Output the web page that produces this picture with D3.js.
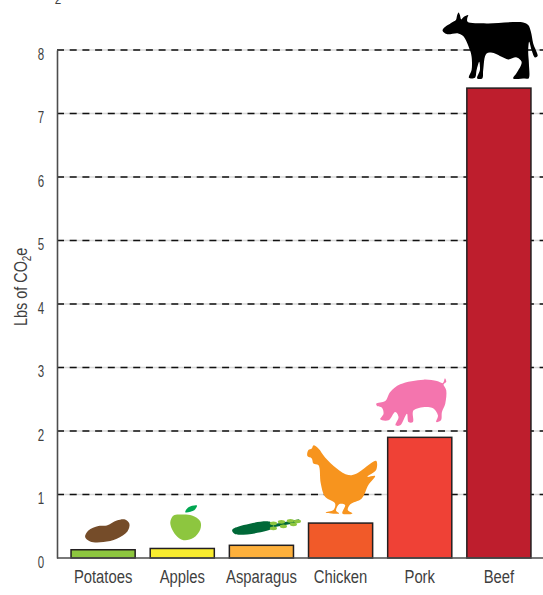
<!DOCTYPE html>
<html>
<head>
<meta charset="utf-8">
<script src="https://cdn.jsdelivr.net/npm/d3@7"></script>
<style>
  html, body { margin: 0; padding: 0; background: #fff; }
  svg { display: block; }
  text { font-family: "Liberation Sans", sans-serif; fill: #3f3f3f; }
</style>
</head>
<body>
<div id="chart"></div>
<script>
const categories = ["Potatoes", "Apples", "Asparagus", "Chicken", "Pork", "Beef"];
const values = [0.13, 0.15, 0.2, 0.55, 1.9, 7.4];
const barColors = ["#8dc63f", "#f9ec2f", "#fdb03c", "#f15a29", "#ef4136", "#be1e2d"];
const yTicks = [0, 1, 2, 3, 4, 5, 6, 7, 8];

// silhouettes, points relative to top centre of the bar they stand on
const cowShape = [[-56.3,-57.3],[-55,-60],[-45.7,-66.3],[-43,-68],[-41.7,-73],[-40.3,-75.7],[-39,-73],[-37.7,-68.7],[-35,-71.3],[-30.7,-73],[-31.7,-69.7],[-31.3,-66.3],[-12.3,-64.7],[24.3,-65.7],[29.3,-63],[32,-56.3],[34.3,-44.7],[38.7,-32],[36,-30.7],[32.7,-38],[30.3,-46.3],[29.3,-36.3],[30,-24.7],[29.7,-9.7],[26,-9.7],[14.3,-9.7],[17.7,-15],[22.7,-26.3],[17.7,-30.7],[9.3,-28.7],[2.7,-31.3],[-4,-34.7],[-12.3,-34.7],[-15.7,-18],[-16.7,-9.7],[-21.7,-9.7],[-19,-18],[-19.7,-26.3],[-22.3,-18],[-24,-10.3],[-30,-10.3],[-27.3,-18],[-27.3,-31.3],[-29,-38],[-35.7,-52],[-40.7,-54.7],[-52.3,-54]];
const pigShape = [[-43.5,-33.7],[-34.5,-36.3],[-29.5,-45.3],[-19.5,-53],[3.8,-57.7],[17.2,-56.3],[23.2,-54.3],[25.2,-59],[26.5,-55.3],[23.8,-53],[26.5,-47],[25.5,-33.7],[22.2,-25.3],[21.2,-17],[16.5,-15.3],[18.2,-22],[12.2,-29.7],[-6.2,-27],[-6.8,-15.3],[-11.2,-15.3],[-12.8,-23.7],[-19.5,-12],[-24.2,-12],[-21.2,-20.3],[-24.5,-25.3],[-31.2,-17],[-39.5,-18],[-36.2,-23.7],[-37.8,-29.7],[-42.2,-31]];
const chickenShape = [[-33.2,-67],[-32.2,-73],[-28.8,-74.7],[-27.2,-77.7],[-22.2,-74.7],[-15.5,-65.7],[-3.8,-54.7],[7.8,-48],[16.2,-49.7],[35.5,-62.3],[35.5,-53],[26.8,-46.3],[34.5,-47],[27.8,-38],[21.2,-24.7],[9.5,-18.7],[7.2,-13],[11.8,-9.7],[1.8,-9.7],[4.5,-18],[-1.2,-19],[-4.5,-12.3],[-1.5,-9.7],[-14.8,-10.7],[-7.2,-13],[-5.5,-19.7],[-15.5,-26.3],[-19.8,-39.7],[-22.2,-58],[-27.2,-59.7],[-28.8,-64.7]];
const potatoShape = [[-18,-12.7],[-14.7,-19.3],[-4.7,-23.7],[3.7,-24.3],[13.7,-29.3],[22,-30.3],[26.3,-26],[24.3,-18.3],[13.7,-11],[0.3,-7.7],[-13,-8.3]];
const appleShape = [[-12,-25.7],[-8.7,-33],[-0.3,-34],[9.7,-33],[18,-27.3],[18,-19],[11.3,-10.7],[1.3,-8.3],[-7,-14]];
const appleLeaf = [[3,-36.3],[6.3,-41.3],[14.7,-43],[12,-38.3]];
const asparagusStem = [[-29.3,-15],[-26,-17.7],[9,-23.3],[12,-17.7],[-26,-11]];
const asparagusTip = [[12,-19.5],[38,-24.5]];
const asparagusBuds = [[12,-22],[20,-23.5],[29,-24.5],[36,-24],[12,-17],[22,-19],[32,-21]];

const width = 543, height = 595;
const margin = { top: 50, bottom: 37, left: 57 };
const narrow = 0.78; // reference type is a condensed face, squeeze ours to match

const svg = d3.select("#chart").append("svg").attr("width", width).attr("height", height);

const x = d3.scaleBand().domain(categories).range([56, 546]).padding(0.19);
const y = d3.scaleLinear().domain([0, 8]).range([height - margin.bottom, margin.top]);

// bit of the cropped title that pokes in at the top edge
svg.append("text")
  .attr("transform", `translate(58,3.5) scale(${narrow},1)`)
  .attr("text-anchor", "middle").attr("font-size", 15).text("2");

// gridlines: pale rule with dashes over it
const gridTicks = yTicks.slice(1);
svg.selectAll(".grid-pale").data(gridTicks).enter().append("line")
  .attr("class", "grid-pale")
  .attr("x1", margin.left).attr("x2", width)
  .attr("y1", (d) => y(d)).attr("y2", (d) => y(d))
  .attr("stroke", "#d8d8d8").attr("stroke-width", 1.4);
svg.selectAll(".grid-dash").data(gridTicks).enter().append("line")
  .attr("class", "grid-dash")
  .attr("x1", margin.left).attr("x2", width)
  .attr("y1", (d) => y(d)).attr("y2", (d) => y(d))
  .attr("stroke", "#111").attr("stroke-width", 1.3)
  .attr("stroke-dasharray", "7,5.7");

// bars
svg.selectAll(".bar").data(categories).enter().append("rect")
  .attr("class", "bar")
  .attr("x", (d) => x(d))
  .attr("y", (d, i) => y(values[i]))
  .attr("width", x.bandwidth())
  .attr("height", (d, i) => y(0) - y(values[i]))
  .attr("fill", (d, i) => barColors[i])
  .attr("stroke", "#231f20").attr("stroke-width", 1.5);

// axes
const yAxis = d3.axisLeft(y).tickValues(yTicks).tickSize(0).tickPadding(0);
const gy = svg.append("g").attr("transform", `translate(${margin.left},0)`).call(yAxis);
gy.select(".domain").attr("stroke", "#4d4d4d").attr("stroke-width", 1.6);
gy.selectAll("text")
  .attr("x", 0).attr("dy", null)
  .attr("font-size", 16).attr("font-family", '"Liberation Sans", sans-serif')
  .attr("text-anchor", "middle")
  .attr("transform", `translate(-16,9) scale(0.72,1)`);

const xAxis = d3.axisBottom(x).tickSize(0).tickPadding(12);
const gx = svg.append("g").attr("transform", `translate(0,${y(0)})`).call(xAxis);
gx.select(".domain").attr("d", `M${margin.left},0H${width}`).attr("stroke", "#4d4d4d").attr("stroke-width", 1.6);
gx.selectAll("text")
  .attr("font-size", 19).attr("font-family", '"Liberation Sans", sans-serif')
  .attr("transform", `scale(${narrow},1)`);

// y axis title
const yTitle = svg.append("text")
  .attr("transform", `translate(27,${y(4.27)}) rotate(-90) scale(0.76,1)`)
  .attr("text-anchor", "middle").attr("font-size", 19);
yTitle.append("tspan").text("Lbs of CO");
yTitle.append("tspan").attr("font-size", 13).attr("dy", 4).text("2");
yTitle.append("tspan").attr("dy", -4).text("e");

// icons sitting on the bars
const blob = d3.line().curve(d3.curveCatmullRomClosed.alpha(0.5));
function iconAt(name) {
  const i = categories.indexOf(name);
  return svg.append("g")
    .attr("transform", `translate(${x(name) + x.bandwidth() / 2},${y(values[i])})`);
}

iconAt("Beef").append("path").attr("d", blob(cowShape)).attr("fill", "#000");
iconAt("Pork").append("path").attr("d", blob(pigShape)).attr("fill", "#f475ae");
iconAt("Chicken").append("path").attr("d", blob(chickenShape)).attr("fill", "#f7941e");
iconAt("Potatoes").append("path").attr("d", blob(potatoShape)).attr("fill", "#754c29");

const apple = iconAt("Apples");
apple.append("path").attr("d", blob(appleShape)).attr("fill", "#8dc63f");
apple.append("path").attr("d", blob(appleLeaf)).attr("fill", "#00a651");

const asparagus = iconAt("Asparagus");
asparagus.append("path").attr("d", blob(asparagusStem)).attr("fill", "#006838");
asparagus.append("path").attr("d", d3.line()(asparagusTip)).attr("stroke", "#006838").attr("stroke-width", 3);
asparagus.selectAll("ellipse").data(asparagusBuds).enter().append("ellipse")
  .attr("cx", (d) => d[0]).attr("cy", (d) => d[1])
  .attr("rx", 3.6).attr("ry", 1.9).attr("fill", "#8dc63f");
</script>
</body>
</html>
